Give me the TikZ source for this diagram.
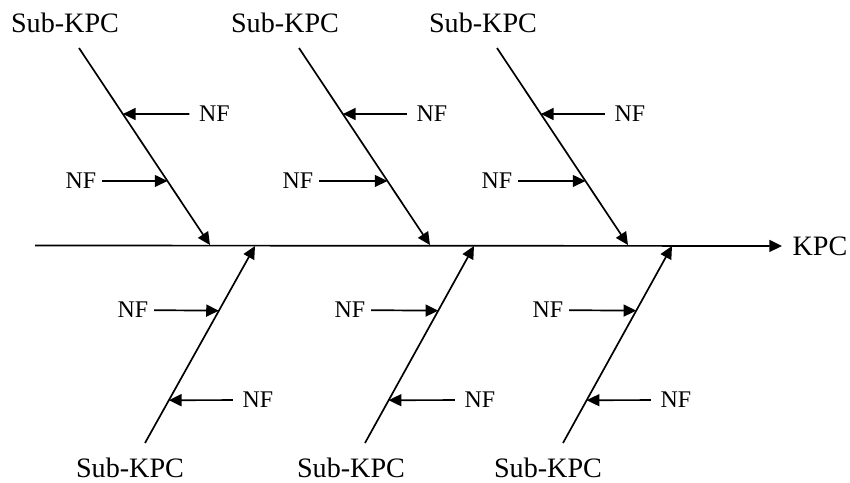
\documentclass[tikz,border=0pt]{standalone}
\usepackage{fontspec}
\setmainfont{Liberation Serif}
\usetikzlibrary{arrows.meta, calc}

\begin{document}
\begin{tikzpicture}[
    x=0.025cm, y=-0.025cm,
    >={Triangle[length=9pt, width=8.5pt]},
    line width=1.2pt,
    cause/.style={font=\fontsize{20}{24}\selectfont, inner sep=0pt},
    nf/.style={font=\fontsize{17}{20}\selectfont, inner sep=0pt},
    fromleft/.style={->, shorten <=3.5pt},
    fromright/.style={->, shorten <=6.4pt}
]
    \useasboundingbox (0,0) rectangle (850,482);

    % Spine
    \node[cause] (kpc) at (820,246) {KPC};
    \coordinate (spine) at (35,245.5);
    \draw[->, shorten >=7pt] (spine) -- (kpc);

    % Upper bones
    \node[cause] (top1) at (65,22.5) {Sub-KPC};
    \node[cause] (top2) at (285,22.5) {Sub-KPC};
    \node[cause] (top3) at (483,22.5) {Sub-KPC};
    \coordinate (top1s) at (79,48);  \coordinate (top1e) at (210,245);
    \coordinate (top2s) at (299,48); \coordinate (top2e) at (430,245);
    \coordinate (top3s) at (497,48); \coordinate (top3e) at (628,245);
    \draw[->] (top1s) -- (top1e);
    \draw[->] (top2s) -- (top2e);
    \draw[->] (top3s) -- (top3e);

    % Lower bones
    \node[cause] (bot1) at (130,468) {Sub-KPC};
    \node[cause] (bot2) at (351,468) {Sub-KPC};
    \node[cause] (bot3) at (548,468) {Sub-KPC};
    \coordinate (bot1s) at (145,443); \coordinate (bot1e) at (255,246);
    \coordinate (bot2s) at (365,443); \coordinate (bot2e) at (474,246);
    \coordinate (bot3s) at (563,443); \coordinate (bot3e) at (672,246);
    \draw[->] (bot1s) -- (bot1e);
    \draw[->] (bot2s) -- (bot2e);
    \draw[->] (bot3s) -- (bot3e);

    % Points where the NF arrows meet the bones
    \coordinate (top1a) at ($(top1s)!0.335!(top1e)$);
    \coordinate (top1b) at ($(top1s)!0.675!(top1e)$);
    \coordinate (top2a) at ($(top2s)!0.335!(top2e)$);
    \coordinate (top2b) at ($(top2s)!0.675!(top2e)$);
    \coordinate (top3a) at ($(top3s)!0.335!(top3e)$);
    \coordinate (top3b) at ($(top3s)!0.675!(top3e)$);
    \coordinate (bot1a) at ($(bot1s)!0.6717!(bot1e)$);
    \coordinate (bot1b) at ($(bot1s)!0.2172!(bot1e)$);
    \coordinate (bot2a) at ($(bot2s)!0.6717!(bot2e)$);
    \coordinate (bot2b) at ($(bot2s)!0.2172!(bot2e)$);
    \coordinate (bot3a) at ($(bot3s)!0.6717!(bot3e)$);
    \coordinate (bot3b) at ($(bot3s)!0.2172!(bot3e)$);

    % NF labels
    \node[nf] (nf1a) at (214.5,114) {NF};
    \node[nf] (nf1b) at (81,181) {NF};
    \node[nf] (nf2a) at (432,114) {NF};
    \node[nf] (nf2b) at (298,181) {NF};
    \node[nf] (nf3a) at (630,114) {NF};
    \node[nf] (nf3b) at (497,181) {NF};
    \node[nf] (nf4a) at (133,310) {NF};
    \node[nf] (nf4b) at (258,400) {NF};
    \node[nf] (nf5a) at (350,310) {NF};
    \node[nf] (nf5b) at (480,400) {NF};
    \node[nf] (nf6a) at (548,310) {NF};
    \node[nf] (nf6b) at (676,400) {NF};

    % NF arrows
    \draw[fromright] (nf1a) -- (top1a);
    \draw[fromleft] (nf1b) -- (top1b);
    \draw[fromright] (nf2a) -- (top2a);
    \draw[fromleft] (nf2b) -- (top2b);
    \draw[fromright] (nf3a) -- (top3a);
    \draw[fromleft] (nf3b) -- (top3b);
    \draw[fromleft] (nf4a) -- (bot1a);
    \draw[fromright] (nf4b) -- (bot1b);
    \draw[fromleft] (nf5a) -- (bot2a);
    \draw[fromright] (nf5b) -- (bot2b);
    \draw[fromleft] (nf6a) -- (bot3a);
    \draw[fromright] (nf6b) -- (bot3b);

\end{tikzpicture}
\end{document}
